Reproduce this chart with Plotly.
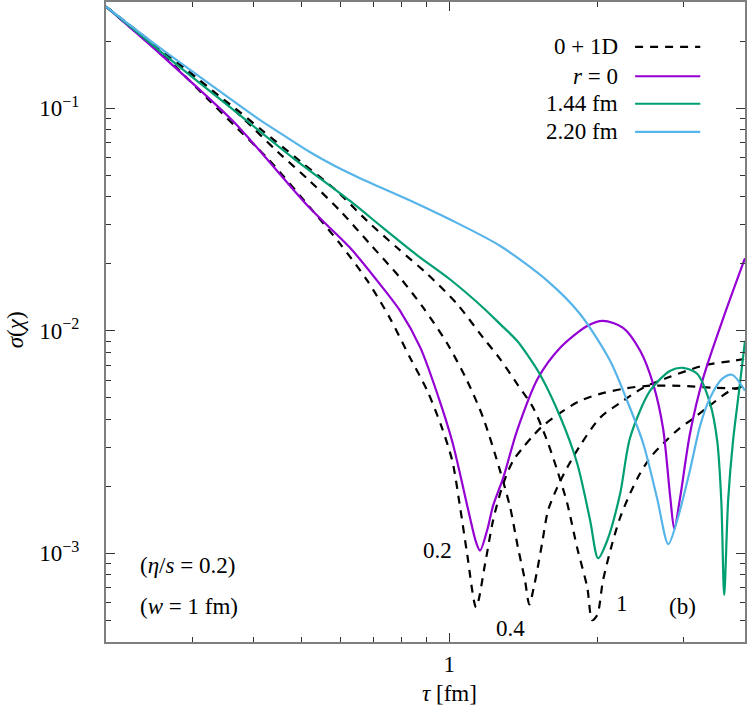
import numpy as np
import plotly.graph_objects as go

# dashed curves (0+1D), labelled 0.2, 0.4 and 1
d02_tau = [0.200, 0.274, 0.321, 0.370, 0.426, 0.528, 0.600, 0.681, 0.757, 0.832, 0.902, 0.966,
           1.014, 1.052, 1.087, 1.134, 1.183, 1.228, 1.288, 1.349, 1.413, 1.481, 1.552, 1.682,
           1.846, 2.028, 2.259, 2.529, 2.951, 3.446, 4.0]
d02_sig = [0.286, 0.157, 0.111, 0.0813, 0.0597, 0.0345, 0.0245, 0.0168, 0.0114, 0.00757, 0.00538,
           0.00367, 0.00261, 0.00161, 0.00100, 0.000573, 0.000901, 0.00141, 0.00206, 0.00261,
           0.00299, 0.00338, 0.00375, 0.00428, 0.00485, 0.00521, 0.00549, 0.00566, 0.00566,
           0.00555, 0.00549]

d04_tau = [0.200, 0.331, 0.380, 0.446, 0.520, 0.600, 0.690, 0.794, 0.885, 0.991, 1.087, 1.172,
           1.268, 1.330, 1.380, 1.426, 1.455, 1.489, 1.510, 1.545, 1.589, 1.659, 1.738, 1.846,
           2.028, 2.259, 2.483, 2.777, 3.049, 3.350, 3.782, 4.0]
d04_sig = [0.286, 0.119, 0.0902, 0.0641, 0.0471, 0.0345, 0.0245, 0.0173, 0.0127, 0.00875, 0.00597,
           0.00407, 0.00236, 0.00161, 0.00106, 0.000757, 0.000590, 0.000719, 0.000839, 0.00111,
           0.00156, 0.00198, 0.00243, 0.00305, 0.00407, 0.00485, 0.00555, 0.00615, 0.00662,
           0.00705, 0.00733, 0.00748]

d1_tau = [0.200, 0.306, 0.358, 0.418, 0.497, 0.590, 0.681, 0.783, 0.902, 1.037, 1.172, 1.268,
          1.374, 1.481, 1.582, 1.659, 1.738, 1.821, 1.909, 1.954, 2.000, 2.056, 2.147, 2.228,
          2.334, 2.447, 2.564, 2.723, 2.951, 3.090, 3.350, 3.730, 4.0]
d1_sig = [0.286, 0.135, 0.104, 0.0788, 0.0578, 0.0425, 0.0311, 0.0236, 0.0180, 0.0132, 0.00931,
          0.00748, 0.00578, 0.00452, 0.00321, 0.00236, 0.00168, 0.00106, 0.000705, 0.000501,
          0.000527, 0.000757, 0.00111, 0.00145, 0.00186, 0.00229, 0.00269, 0.00311, 0.00367,
          0.00394, 0.00452, 0.00538, 0.00566]

# r = 0
r0_tau = [0.200, 0.258, 0.363, 0.412, 0.520, 0.628, 0.713, 0.794, 0.873, 0.957, 1.014, 1.067,
          1.103, 1.134, 1.155, 1.194, 1.228, 1.288, 1.374, 1.517, 1.682, 1.909, 2.056, 2.259,
          2.447, 2.600, 2.723, 2.818, 2.871, 2.951, 3.090, 3.289, 3.614, 4.0]
r0_sig = [0.286, 0.175, 0.0874, 0.0641, 0.0356, 0.0236, 0.0168, 0.0123, 0.0084, 0.00481, 0.00318,
          0.00198, 0.00143, 0.00112, 0.00103, 0.00127, 0.00164, 0.00219, 0.00356, 0.00615,
          0.0084, 0.01052, 0.01109, 0.01031, 0.00813, 0.00578, 0.00367, 0.00178, 0.00129,
          0.00178, 0.00345, 0.00615, 0.01143, 0.0212]

# r = 1.44 fm
r144_tau = [0.200, 0.258, 0.352, 0.481, 0.628, 0.733, 0.859, 1.004, 1.172, 1.268, 1.374, 1.446,
            1.531, 1.682, 1.821, 1.935, 2.009, 2.096, 2.228, 2.334, 2.564, 2.818, 2.992, 3.196,
            3.397, 3.511, 3.579, 3.628, 3.696, 3.782, 3.891, 4.0]
r144_sig = [0.286, 0.180, 0.104, 0.0597, 0.0383, 0.0290, 0.0219, 0.0170, 0.0127, 0.01074, 0.00902,
            0.00773, 0.00635, 0.00411, 0.00254, 0.00141, 0.000951, 0.00114, 0.00186, 0.00331,
            0.00538, 0.00662, 0.00682, 0.00641, 0.00471, 0.00321, 0.00173, 0.000649, 0.00173,
            0.00321, 0.00538, 0.00902]

# r = 2.20 fm
r220_tau = [0.200, 0.258, 0.326, 0.412, 0.463, 0.520, 0.585, 0.658, 0.832, 1.004, 1.268, 1.582,
            1.846, 2.125, 2.302, 2.483, 2.649, 2.792, 2.911, 3.090, 3.241, 3.397, 3.596, 3.765, 4.0]
r220_sig = [0.286, 0.186, 0.128, 0.0884, 0.0749, 0.0636, 0.0550, 0.0485, 0.0385, 0.0316, 0.0241,
            0.0168, 0.0119, 0.00733, 0.00485, 0.00311, 0.00177, 0.00110, 0.00141, 0.00236,
            0.00375, 0.00501, 0.00610, 0.00635, 0.00538]

PURPLE = '#9400d3'
GREEN = '#009e73'
BLUE = '#56b4e9'
FRAME = '#7f7f7f'
FONT = 'Liberation Serif'
FS = 23

fig = go.Figure()

for t, s in [(d02_tau, d02_sig), (d04_tau, d04_sig), (d1_tau, d1_sig)]:
    fig.add_trace(go.Scatter(x=t, y=s, mode='lines', showlegend=False,
                             line=dict(color='black', width=2.2, dash='8px,7px',
                                       shape='spline', smoothing=0.8)))

for t, s, c in [(r0_tau, r0_sig, PURPLE), (r144_tau, r144_sig, GREEN), (r220_tau, r220_sig, BLUE)]:
    fig.add_trace(go.Scatter(x=t, y=s, mode='lines', showlegend=False,
                             line=dict(color=c, width=2.2, shape='spline', smoothing=0.8)))

# hand-made legend: text on the left, line sample on the right
legend_rows = [('0 + 1D', 'black', '8px,7px', 0.930),
               ('<i>r</i> = 0', PURPLE, 'solid', 0.884),
               ('1.44 fm', GREEN, 'solid', 0.841),
               ('2.20 fm', BLUE, 'solid', 0.797)]
for label, color, dash, yp in legend_rows:
    fig.add_annotation(x=0.804, y=yp, xref='paper', yref='paper', text=label,
                       showarrow=False, xanchor='right', yanchor='middle',
                       font=dict(family=FONT, size=FS, color='black'))
    fig.add_shape(type='line', xref='paper', yref='paper', x0=0.828, x1=0.930, y0=yp, y1=yp,
                  line=dict(color=color, width=2.2, dash=dash))

# curve labels and notes
curve_labels = [('0.2', 0.944, 0.00103), ('0.4', 1.33, 0.000461), ('1', 2.249, 0.000597),
                ('(b)', 2.99, 0.000575)]
for txt, xv, yv in curve_labels:
    fig.add_annotation(x=np.log10(xv), y=np.log10(yv), text=txt, showarrow=False,
                       xanchor='center', yanchor='middle',
                       font=dict(family=FONT, size=FS, color='black'))

notes = [('(<i>η</i>/<i>s</i> = 0.2)', 0.120), ('(<i>w</i> = 1 fm)', 0.055)]
for txt, yp in notes:
    fig.add_annotation(x=0.050, y=yp, xref='paper', yref='paper', text=txt, showarrow=False,
                       xanchor='left', yanchor='middle',
                       font=dict(family=FONT, size=FS, color='black'))

# axis titles
fig.add_annotation(x=0.538, y=-0.080, xref='paper', yref='paper', text='<i>τ</i> [fm]',
                   showarrow=False, xanchor='center', yanchor='middle',
                   font=dict(family=FONT, size=FS, color='black'))
fig.add_annotation(x=-0.142, y=0.4875, xref='paper', yref='paper', text='<i>σ</i>(<i>χ</i>)',
                   showarrow=False, textangle=-90, xanchor='center', yanchor='middle',
                   font=dict(family=FONT, size=FS, color='black'))

y_minor = [k * 10.0 ** e for e in (-4, -3, -2, -1) for k in range(2, 10)
           if 4e-4 <= k * 10.0 ** e <= 0.3]
x_minor = [0.3, 0.4, 0.5, 0.6, 0.7, 0.8, 0.9, 2, 3]

fig.update_xaxes(type='log', range=[np.log10(0.2), np.log10(4)], automargin=False,
                 tickmode='array', tickvals=[1], ticktext=['1'],
                 ticks='inside', ticklen=9, tickwidth=1, tickcolor='#333333',
                 minor=dict(tickmode='array', tickvals=x_minor, ticks='inside', ticklen=5,
                            tickwidth=1, tickcolor='#333333'),
                 showline=True, linecolor=FRAME, linewidth=2, mirror='allticks',
                 showgrid=False, zeroline=False, ticklabelstandoff=0,
                 tickfont=dict(family=FONT, size=FS, color='black'))

fig.update_yaxes(type='log', range=[np.log10(4e-4), np.log10(0.3)], automargin=False,
                 tickmode='array', tickvals=[1e-3, 1e-2, 1e-1],
                 ticktext=['10<sup>−3</sup>', '10<sup>−2</sup>', '10<sup>−1</sup>'],
                 ticks='inside', ticklen=9, tickwidth=1, tickcolor='#333333',
                 minor=dict(tickmode='array', tickvals=y_minor, ticks='inside', ticklen=5,
                            tickwidth=1, tickcolor='#333333'),
                 showline=True, linecolor=FRAME, linewidth=2, mirror='allticks',
                 showgrid=False, zeroline=False, ticklabelstandoff=20,
                 tickfont=dict(family=FONT, size=FS, color='black'))

fig.update_layout(width=747, height=715, margin=dict(l=106, r=2, t=2, b=73),
                  paper_bgcolor='white', plot_bgcolor='white', showlegend=False)

# drop the browser's default 8px body margin so the figure fills the window
fig.write_html("out.html", config={'displayModeBar': False},
               post_script="document.body.style.margin = '0px';")
